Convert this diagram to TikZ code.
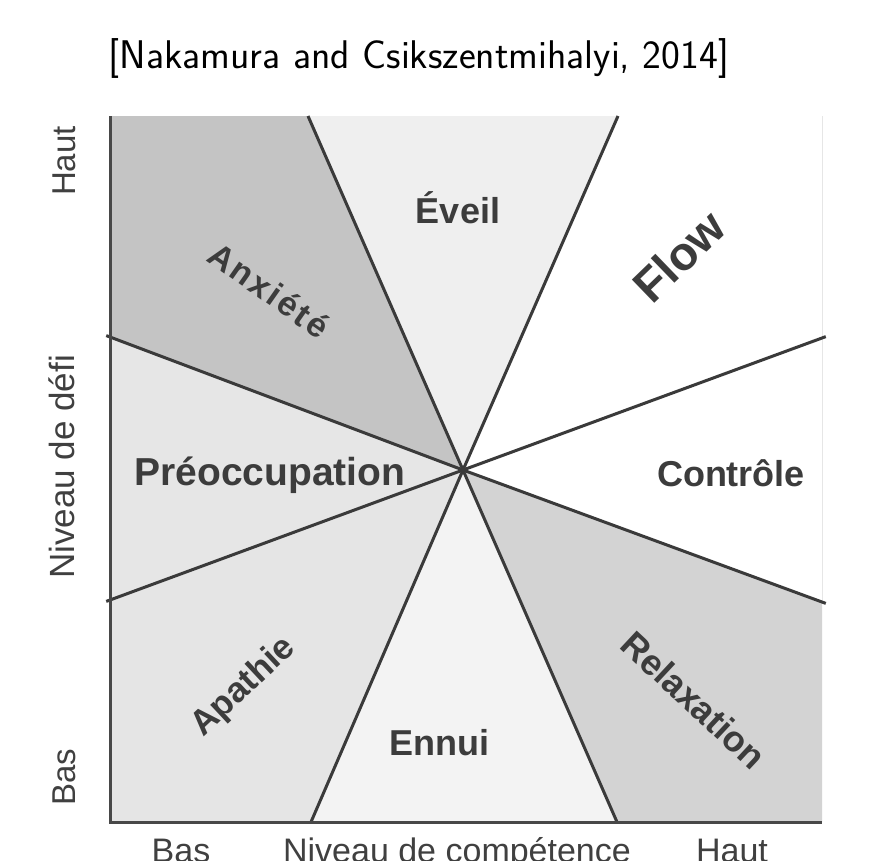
\documentclass[tikz,border=0pt]{standalone}
\usepackage{fontspec}
\newfontfamily\arialf{Liberation Sans}
\definecolor{linec}{HTML}{3A3A3A}
\definecolor{txtc}{HTML}{3C3C3C}
\definecolor{axc}{HTML}{404040}
\definecolor{anxc}{HTML}{C4C4C4}
\definecolor{evc}{HTML}{EFEFEF}
\definecolor{relc}{HTML}{D3D3D3}
\definecolor{ennc}{HTML}{F3F3F3}
\definecolor{apac}{HTML}{E5E5E5}
\definecolor{prec}{HTML}{E6E6E6}
\definecolor{faintc}{HTML}{E6E6E6}
\definecolor{axisc}{HTML}{484848}
\tikzset{
  seg/.style={draw=linec, line width=3pt},
  axisline/.style={draw=axisc, line width=3pt, line join=miter},
  zone/.style={font=\arialf\bfseries\fontsize{36}{40}\selectfont, text=txtc, inner sep=0pt},
  axlab/.style={font=\arialf\fontsize{34}{38}\selectfont, text=axc, inner sep=0pt},
}
\begin{document}
\begin{tikzpicture}[x=1pt,y=-1pt]
\useasboundingbox (0,0) rectangle (883,860);
\clip (0,0) rectangle (883,860);
\fill[white] (0,0) rectangle (883,860);
\coordinate (C) at (463,470);
\coordinate (TL) at (110,116);
\coordinate (T1) at (308,116);
\coordinate (T2) at (618,116);
\coordinate (TR) at (822,116);
\coordinate (R1) at (822,338);
\coordinate (R2) at (822,602);
\coordinate (BR) at (822,822);
\coordinate (B2) at (617,822);
\coordinate (B1) at (311,822);
\coordinate (BL) at (110,822);
\coordinate (L2) at (110,600);
\coordinate (L1) at (110,337);
% zones
\fill[anxc] (C) -- (L1) -- (TL) -- (T1) -- cycle;
\fill[evc] (C) -- (T1) -- (T2) -- cycle;
\fill[relc] (C) -- (R2) -- (BR) -- (B2) -- cycle;
\fill[ennc] (C) -- (B2) -- (B1) -- cycle;
\fill[apac] (C) -- (B1) -- (BL) -- (L2) -- cycle;
\fill[prec] (C) -- (L2) -- (L1) -- cycle;
\draw[faintc, line width=1pt] (TR) -- (R2);
% dividing lines
\draw[seg, shorten >=-4pt] (C) -- (L1);
\draw[seg, shorten >=-4pt] (C) -- (L2);
\draw[seg, shorten >=-4pt] (C) -- (R1);
\draw[seg, shorten >=-4pt] (C) -- (R2);
\draw[seg] (C) -- (T1);
\draw[seg] (C) -- (T2);
\draw[seg] (C) -- (B1);
\draw[seg] (C) -- (B2);
% axes
\draw[axisline] (TL) -- (BL) -- (BR);
% zone labels
\node[zone, anchor=base] (eveil) at (458,223) {Éveil};
\node[zone, anchor=base] (ennui) at (439,755) {Ennui};
\node[zone, font=\arialf\bfseries\fontsize{39}{42}\selectfont, anchor=base] (preo) at (270,485) {Préoccupation};
\node[zone, anchor=base] (ctrl) at (731,486) {Contrôle};
\node[zone, font=\arialf\bfseries\fontsize{47}{50}\selectfont, rotate=44] (flow) at (679,256) {Flow};
\node[zone, font=\arialf\bfseries\fontsize{34}{38}\selectfont, rotate=-35] (anx) at (269,290) {A\kern2.7pt n\kern2.7pt x\kern2.7pt i\kern2.7pt é\kern2.7pt t\kern2.7pt é};
\node[zone, font=\arialf\bfseries\fontsize{35}{38}\selectfont, rotate=43] (apa) at (244,687) {Apathie};
\node[zone, font=\arialf\bfseries\fontsize{36}{38}\selectfont, rotate=-43] (rel) at (694,700) {Relaxation};
% axis labels
\node[axlab, font=\arialf\fontsize{33}{38}\selectfont, rotate=90, anchor=base] (hautv) at (75,161) {Haut};
\node[axlab, font=\arialf\fontsize{35}{38}\selectfont, rotate=90, anchor=base] (defi) at (74,467) {Niveau de défi};
\node[axlab, font=\arialf\fontsize{33}{38}\selectfont, rotate=90, anchor=base] (basv) at (75,777) {Bas};
\node[axlab, anchor=base] (bash) at (181,862) {Bas};
\node[axlab, anchor=base] (comp) at (457,862) {Niveau de compétence};
\node[axlab, anchor=base] (hauth) at (732,862) {Haut};
% title
\node[font=\sffamily\fontsize{40}{44}\selectfont, anchor=base, inner sep=0pt] (title) at (419,68) {[Nakamura and Csikszentmihalyi, 2014]};
\end{tikzpicture}
\end{document}
